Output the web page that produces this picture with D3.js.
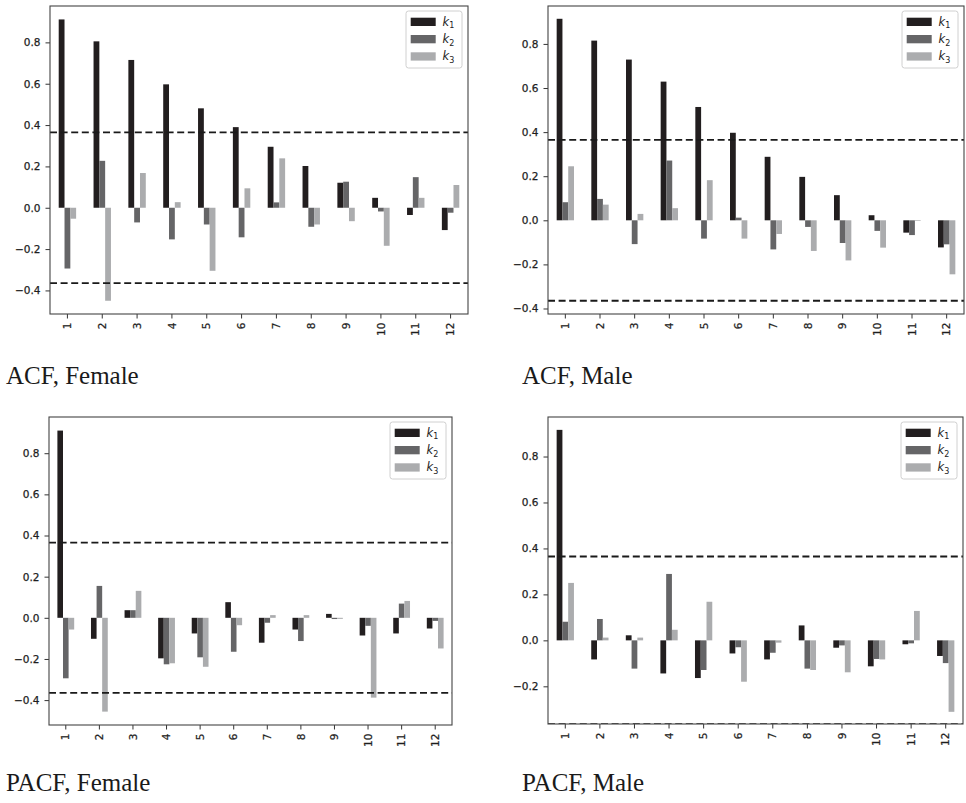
<!DOCTYPE html>
<html>
<head>
<meta charset="utf-8">
<script src="https://cdn.jsdelivr.net/npm/d3@7"></script>
<style>
  html, body { margin: 0; padding: 0; background: #fff; }
  svg { display: block; }
</style>
</head>
<body>
<svg id="chart" width="966" height="803"></svg>
<script>
// ---------------- DATA ----------------
const lags = [1, 2, 3, 4, 5, 6, 7, 8, 9, 10, 11, 12];
const seriesNames = ["k1", "k2", "k3"];
const yTicksFull = [-0.4, -0.2, 0.0, 0.2, 0.4, 0.6, 0.8];
const yTicksShort = [-0.2, 0.0, 0.2, 0.4, 0.6, 0.8];
const confBand = 0.365;
const captions = ["ACF, Female", "ACF, Male", "PACF, Female", "PACF, Male"];

// ACF, Female
const acfFemaleK1 = [0.911, 0.805, 0.715, 0.597, 0.481, 0.390, 0.295, 0.202, 0.121, 0.048, -0.035, -0.108];
const acfFemaleK2 = [-0.294, 0.227, -0.071, -0.153, -0.081, -0.143, 0.026, -0.092, 0.126, -0.018, 0.148, -0.024];
const acfFemaleK3 = [-0.053, -0.450, 0.168, 0.027, -0.305, 0.094, 0.239, -0.081, -0.065, -0.184, 0.048, 0.110];
// ACF, Male
const acfMaleK1 = [0.914, 0.815, 0.729, 0.629, 0.514, 0.397, 0.288, 0.197, 0.114, 0.023, -0.056, -0.123];
const acfMaleK2 = [0.082, 0.097, -0.108, 0.271, -0.083, 0.012, -0.132, -0.030, -0.103, -0.048, -0.067, -0.109];
const acfMaleK3 = [0.245, 0.071, 0.029, 0.055, 0.182, -0.083, -0.062, -0.139, -0.182, -0.124, -0.003, -0.245];
// PACF, Female
const pacfFemaleK1 = [0.910, -0.102, 0.037, -0.197, -0.076, 0.076, -0.121, -0.057, 0.019, -0.086, -0.076, -0.052];
const pacfFemaleK2 = [-0.294, 0.155, 0.037, -0.226, -0.192, -0.165, -0.024, -0.113, -0.006, -0.039, 0.069, -0.015];
const pacfFemaleK3 = [-0.057, -0.456, 0.131, -0.221, -0.238, -0.036, 0.013, 0.013, -0.005, -0.388, 0.082, -0.149];
// PACF, Male
const pacfMaleK1 = [0.916, -0.083, 0.022, -0.144, -0.164, -0.057, -0.083, 0.065, -0.032, -0.113, -0.017, -0.068];
const pacfMaleK2 = [0.081, 0.093, -0.123, 0.289, -0.129, -0.030, -0.054, -0.123, -0.022, -0.081, -0.013, -0.099];
const pacfMaleK3 = [0.250, 0.012, 0.012, 0.046, 0.168, -0.180, -0.010, -0.129, -0.139, -0.083, 0.128, -0.311];

// axis limits (as matplotlib autoscaled them)
const yLimAcfFemale = [-0.514, 0.976];
const yLimAcfMale = [-0.425, 0.972];
const yLimPacfFemale = [-0.521, 0.976];
const yLimPacfMale = [-0.364, 0.972];

// ---------------- STYLE / LAYOUT ----------------
const colors = { k1: "#221e1f", k2: "#656567", k3: "#abacae" };
const panels = [
  { series: [acfFemaleK1, acfFemaleK2, acfFemaleK3], ylim: yLimAcfFemale, ticks: yTicksFull,
    box: { l: 50, r: 468, t: 6, b: 314 }, cap: { x: 6, y: 384 } },
  { series: [acfMaleK1, acfMaleK2, acfMaleK3], ylim: yLimAcfMale, ticks: yTicksFull,
    box: { l: 548, r: 964, t: 6, b: 314 }, cap: { x: 522, y: 384 } },
  { series: [pacfFemaleK1, pacfFemaleK2, pacfFemaleK3], ylim: yLimPacfFemale, ticks: yTicksFull,
    box: { l: 49, r: 452, t: 417, b: 725 }, cap: { x: 6, y: 791 } },
  { series: [pacfMaleK1, pacfMaleK2, pacfMaleK3], ylim: yLimPacfMale, ticks: yTicksShort,
    box: { l: 548, r: 963, t: 417, b: 724 }, cap: { x: 522, y: 791 } }
];

const svg = d3.select("#chart");
const tickFont = "DejaVu Sans, Verdana, sans-serif";
const fmt = d3.format(".1f");

panels.forEach((p, pi) => {
  const B = p.box;
  const g = svg.append("g");
  const x = d3.scaleBand().domain(lags).range([B.l, B.r]).padding(0);
  const y = d3.scaleLinear().domain(p.ylim).range([B.b, B.t]);
  const bw = x.bandwidth() * 0.5 / 3;

  const clipId = "clip" + pi;
  svg.append("clipPath").attr("id", clipId).append("rect")
    .attr("x", B.l).attr("y", B.t).attr("width", B.r - B.l).attr("height", B.b - B.t);

  const plot = g.append("g").attr("clip-path", `url(#${clipId})`);

  // bars
  seriesNames.forEach((name, si) => {
    const vals = p.series[si];
    plot.append("g").selectAll("rect")
      .data(lags.map((lag, i) => ({ lag, v: vals[i] })))
      .join("rect")
      .attr("x", d => x(d.lag) + x.bandwidth() / 2 - 1.5 * bw + si * bw)
      .attr("width", bw)
      .attr("y", d => Math.min(y(d.v), y(0)))
      .attr("height", d => Math.abs(y(d.v) - y(0)))
      .attr("fill", colors[name]);
  });

  // dashed confidence lines
  [confBand, -confBand].forEach(c => {
    plot.append("line")
      .attr("x1", B.l).attr("x2", B.r)
      .attr("y1", y(c)).attr("y2", y(c))
      .attr("stroke", "#1a1a1a").attr("stroke-width", 1.8)
      .attr("stroke-dasharray", "7,3.6");
  });

  // y axis
  const ya = g.append("g").attr("transform", `translate(${B.l},0)`)
    .call(d3.axisLeft(y).tickValues(p.ticks).tickSize(4.5).tickPadding(5).tickFormat(d => fmt(d)));
  ya.select(".domain").remove();
  ya.selectAll("line").attr("stroke", "#333");
  ya.selectAll("text").attr("font-family", tickFont).attr("font-size", 10.5)
    .attr("fill", "#1e1e1e").attr("stroke", "#1e1e1e").attr("stroke-width", 0.25);

  // x axis
  const xa = g.append("g").attr("transform", `translate(0,${B.b})`)
    .call(d3.axisBottom(x).tickSize(4.5).tickPadding(4));
  xa.select(".domain").remove();
  xa.selectAll("line").attr("stroke", "#333");
  xa.selectAll("text")
    .attr("font-family", tickFont).attr("font-size", 10.5)
    .attr("fill", "#1e1e1e").attr("stroke", "#1e1e1e").attr("stroke-width", 0.25)
    .attr("transform", "rotate(-90)")
    .attr("x", -8.5).attr("y", 0).attr("dy", "0.35em")
    .attr("text-anchor", "end");

  // frame
  g.append("rect")
    .attr("x", B.l).attr("y", B.t).attr("width", B.r - B.l).attr("height", B.b - B.t)
    .attr("fill", "none").attr("stroke", "#444").attr("stroke-width", 1.1);

  // legend
  const lx = B.r - 62, ly = B.t + 5;
  const lg = g.append("g");
  lg.append("rect").attr("x", lx).attr("y", ly).attr("width", 56).attr("height", 57)
    .attr("rx", 2.5).attr("fill", "#fff").attr("stroke", "#d0d0d0").attr("stroke-width", 1);
  seriesNames.forEach((name, si) => {
    const yy = ly + 6.7 + si * 17.3;
    lg.append("rect").attr("x", lx + 4.7).attr("y", yy).attr("width", 25).attr("height", 8.3)
      .attr("fill", colors[name]);
    const t = lg.append("text").attr("x", lx + 36.5).attr("y", yy + 8)
      .attr("font-family", tickFont).attr("font-size", 11.5).attr("fill", "#222");
    t.append("tspan").attr("font-style", "italic").text("k");
    t.append("tspan").attr("font-size", 8).attr("dy", 2.5).text(String(si + 1));
  });

  // caption
  svg.append("text").attr("x", p.cap.x).attr("y", p.cap.y)
    .attr("font-family", "Liberation Serif, Times New Roman, serif")
    .attr("font-size", 25).attr("fill", "#1a1a1a").text(captions[pi]);
});
</script>
</body>
</html>
